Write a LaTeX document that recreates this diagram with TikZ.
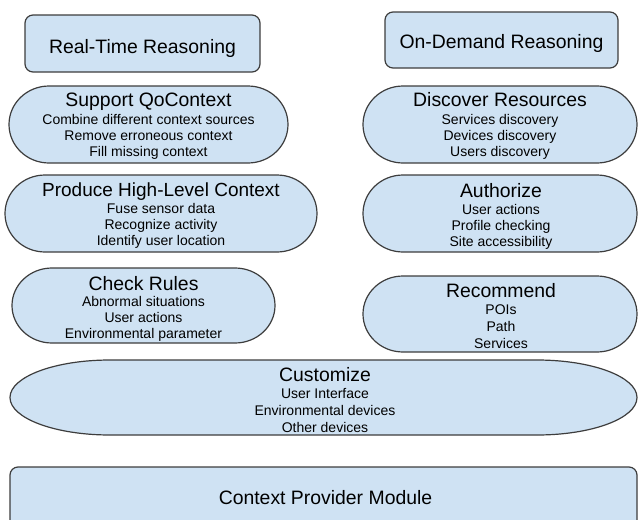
\documentclass[tikz,border=0pt]{standalone}
\usepackage{fontspec}
\setmainfont{Liberation Sans}
\definecolor{boxfill}{HTML}{CFE2F3}
\definecolor{boxline}{HTML}{3D3D3D}

% Stadium-like outline with elliptical ends: x0, y0, x1, y1, horizontal radius
\newcommand\pillshape[5]{%
  \pgfmathsetmacro\pxa{#1+#5}\pgfmathsetmacro\pxb{#3-#5}%
  \pgfmathsetmacro\pmid{(#2+#4)/2}\pgfmathsetmacro\pry{(#4-#2)/2}%
  \pgfmathsetmacro\pkx{0.5523*#5}\pgfmathsetmacro\pky{0.5523*\pry}%
  \draw[blk] (\pxa,#2) -- (\pxb,#2)
    .. controls (\pxb+\pkx,#2) and (#3,\pmid-\pky) .. (#3,\pmid)
    .. controls (#3,\pmid+\pky) and (\pxb+\pkx,#4) .. (\pxb,#4)
    -- (\pxa,#4)
    .. controls (\pxa-\pkx,#4) and (#1,\pmid+\pky) .. (#1,\pmid)
    .. controls (#1,\pmid-\pky) and (\pxa-\pkx,#2) .. cycle;}

\newcommand\ttl[1]{{\fontsize{19.4}{22}\selectfont #1}}

\tikzset{
  blk/.style={draw=boxline, fill=boxfill, line width=1.2pt},
  head/.style={anchor=base, inner sep=0pt, font=\fontsize{19.4}{22}\selectfont},
  body/.style={anchor=base, inner sep=0pt, font=\fontsize{14}{16}\selectfont},
}

\begin{document}
\begin{tikzpicture}[x=1pt, y=-1pt]
\useasboundingbox (0,0) rectangle (638,520);

% header boxes
\draw[blk, rounded corners=8pt] (25,15) rectangle (260,72);
\node[head] (rt) at (142.5,53) {Real-Time Reasoning};
\draw[blk, rounded corners=8pt] (385,12) rectangle (618,68);
\node[head] (od) at (501.5,48) {On-Demand Reasoning};

% left column
\pillshape{9}{86}{288}{163}{40}
\node[body] (qoc) at (148.5,106) {\begin{tabular}[t]{@{}c@{}}\ttl{Support QoContext}\\[2pt]
  Combine different context sources\\ Remove erroneous context\\ Fill missing context\end{tabular}};

\pillshape{5}{175}{317}{252}{40}
\node[body] (hlc) at (161,196) {\begin{tabular}[t]{@{}c@{}}{\fontsize{19}{22}\selectfont Produce High-Level Context}\\[1pt]
  Fuse sensor data\\ Recognize activity\\ Identify user location\end{tabular}};

\pillshape{12}{268}{275}{343}{40}
\node[body] (rules) at (143.5,290) {\begin{tabular}[t]{@{}c@{}}\ttl{Check Rules}\\
  Abnormal situations\\ User actions\\ Environmental parameter\end{tabular}};

% right column
\pillshape{363}{86}{637}{163}{40}
\node[body] (disc) at (500,106) {\begin{tabular}[t]{@{}c@{}}\ttl{Discover Resources}\\[2pt]
  Services discovery\\ Devices discovery\\ Users discovery\end{tabular}};

\pillshape{363}{175}{637}{252}{40}
\node[body] (auth) at (501,197) {\begin{tabular}[t]{@{}c@{}}\ttl{Authorize}\\[1pt]
  User actions\\ Profile checking\\ Site accessibility\end{tabular}};

\pillshape{363}{276}{637}{352}{40}
\node[body] (rec) at (501,297) {\renewcommand\arraystretch{1.05}\begin{tabular}[t]{@{}c@{}}\ttl{Recommend}\\[1pt]
  POIs\\ Path\\ Services\end{tabular}};

% full-width blocks
\pillshape{10}{360}{637}{435}{100}
\node[body] (cust) at (325,381) {\renewcommand\arraystretch{1.06}\begin{tabular}[t]{@{}c@{}}\ttl{Customize}\\[1pt]
  User Interface\\ Environmental devices\\ Other devices\end{tabular}};

\draw[blk, rounded corners=8pt] (10,467) rectangle (637,535);
\node[head] (cpm) at (325.5,504) {Context Provider Module};
\end{tikzpicture}
\end{document}
